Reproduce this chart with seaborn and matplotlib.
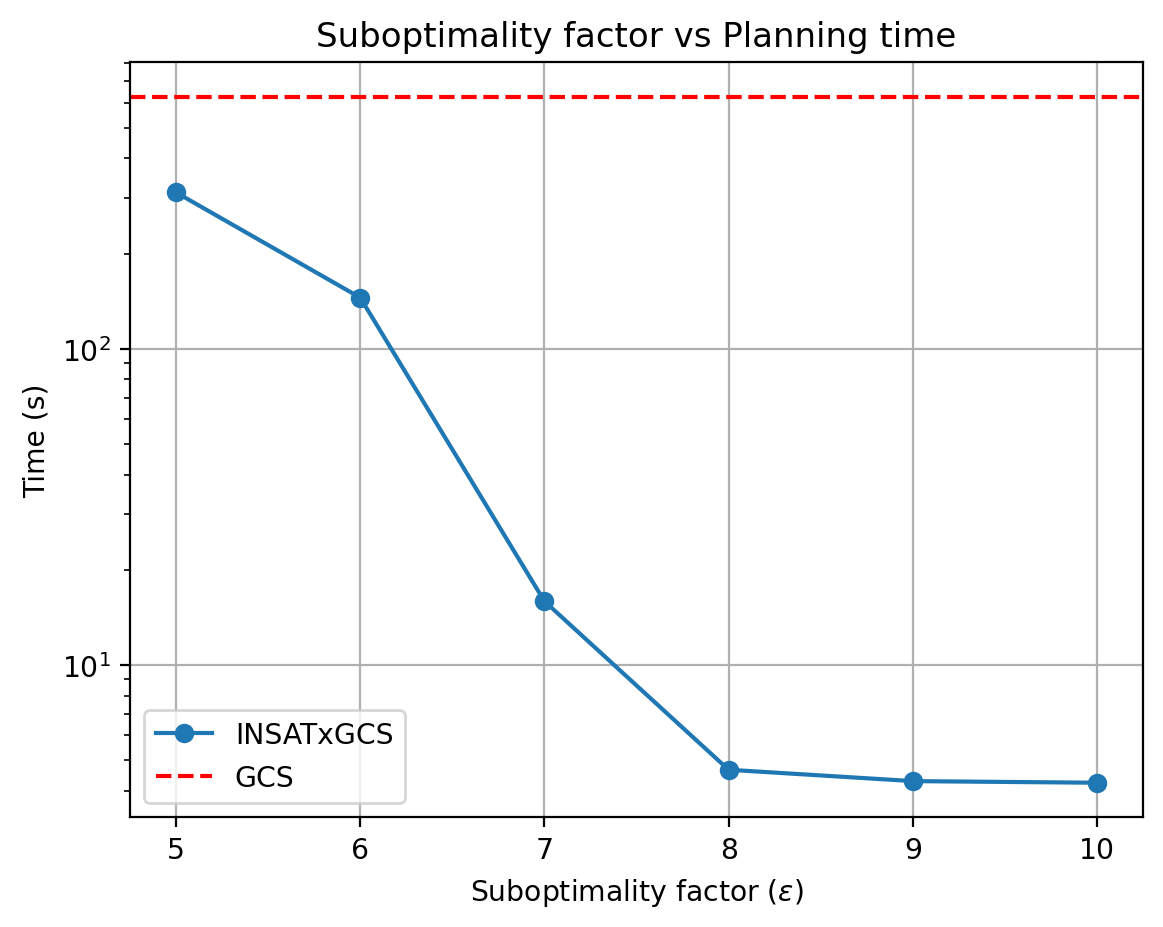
import matplotlib
matplotlib.use("Agg")
import matplotlib.pyplot as plt
import seaborn as sns
import pandas as pd

eps = [5, 6, 7, 8, 9, 10]
times = [312, 145, 15.9, 4.66, 4.29, 4.24]
gcs_time = 627
xticks = [5, 6, 7, 8, 9, 10]

sns.set_theme()
plt.style.use("default")
plt.rcParams['font.family'] = ['DejaVu Sans']
plt.rcParams['font.size'] = 10.2

fig = plt.figure(figsize=(5.815, 4.64), dpi=200)
ax = fig.add_axes([0.1118, 0.1185, 0.9828 - 0.1118, 0.9318 - 0.1185])

df = pd.DataFrame({"eps": eps, "time": times})
sns.lineplot(data=df, x="eps", y="time", marker="o", color="#1f77b4",
             markeredgecolor="#1f77b4", markeredgewidth=1, markersize=6,
             label="INSATxGCS", ax=ax)
ax.axhline(gcs_time, color="red", linestyle="--", label="GCS")
ax.set_yscale("log")
ax.set_xticks(xticks)
ax.grid(True)
ax.set_title("Suboptimality factor vs Planning time", fontsize=12.24)
ax.set_xlabel(r"Suboptimality factor ($\epsilon$)")
ax.set_ylabel("Time (s)")
ax.legend(loc="lower left")

fig.savefig("out.png", dpi=200)
